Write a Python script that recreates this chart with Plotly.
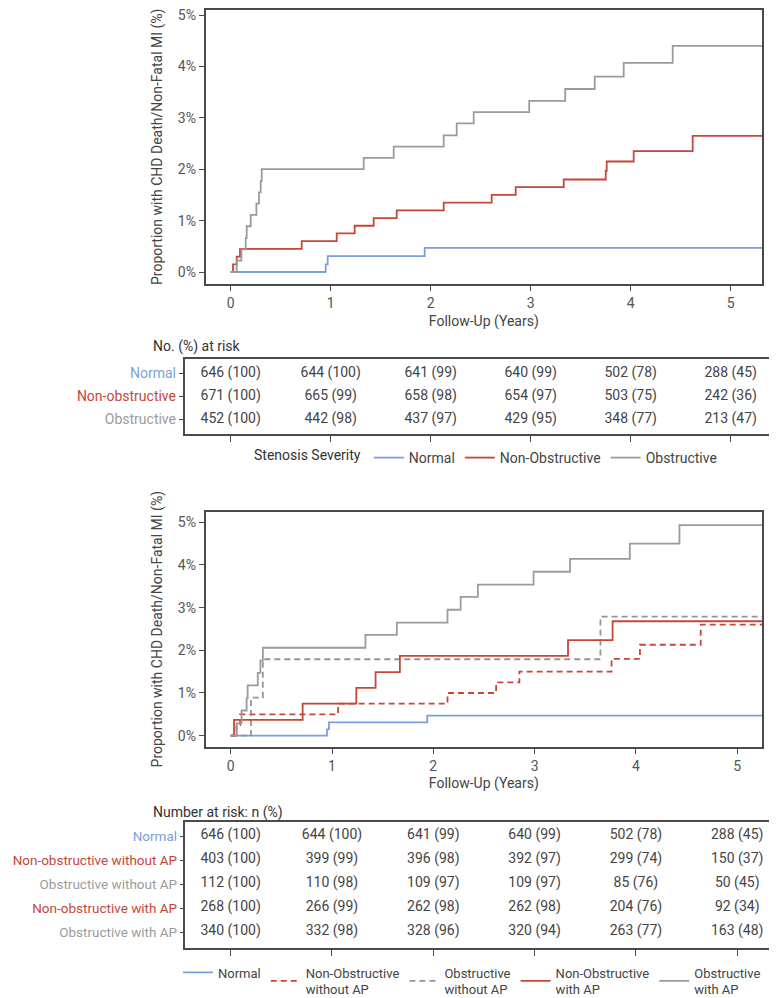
import plotly.graph_objects as go

# colours
BLUE = "#7b9fdb"
RED = "#c4473a"
GRAY = "#9b9b9b"
INK = "#444444"
FONT = "Roboto, Arial, sans-serif"

# --- panel A: stenosis severity (years, cumulative %) ---
a_normal_t = [0, 0.95, 0.97, 1.94, 5.4]
a_normal_y = [0, 0.15, 0.31, 0.47, 0.47]

a_nonobs_t = [0, 0.023, 0.06, 0.093, 0.71, 1.06, 1.24, 1.43, 1.66, 2.13, 2.61, 2.85,
              3.33, 3.75, 3.76, 4.03, 4.62, 5.4]
a_nonobs_y = [0, 0.15, 0.30, 0.45, 0.60, 0.75, 0.90, 1.05, 1.20, 1.35, 1.50, 1.65,
              1.80, 1.97, 2.15, 2.35, 2.65, 2.65]

a_obs_t = [0, 0.06, 0.107, 0.15, 0.16, 0.2, 0.257, 0.283, 0.3, 0.31, 1.33, 1.63, 2.13,
           2.26, 2.43, 2.985, 3.345, 3.64, 3.93, 4.42, 5.4]
a_obs_y = [0, 0.22, 0.44, 0.66, 0.89, 1.11, 1.33, 1.55, 1.77, 2.0, 2.22, 2.44, 2.66,
           2.89, 3.11, 3.33, 3.56, 3.80, 4.07, 4.40, 4.40]

a_rows = ["Normal", "Non-obstructive", "Obstructive"]
a_risk = [
    ["646 (100)", "644 (100)", "641 (99)", "640 (99)", "502 (78)", "288 (45)"],
    ["671 (100)", "665 (99)", "658 (98)", "654 (97)", "503 (75)", "242 (36)"],
    ["452 (100)", "442 (98)", "437 (97)", "429 (95)", "348 (77)", "213 (47)"],
]

# --- panel B: stenosis x anginal pain ---
b_normal_t = [0, 0.95, 0.97, 1.94, 5.4]
b_normal_y = [0, 0.15, 0.31, 0.47, 0.47]

b_nonobs_noap_t = [0, 0.057, 0.093, 1.06, 2.14, 2.62, 2.85, 3.76, 4.04, 4.64, 5.4]
b_nonobs_noap_y = [0, 0.25, 0.50, 0.75, 1.00, 1.25, 1.50, 1.80, 2.13, 2.60, 2.60]

b_obs_noap_t = [0, 0.2, 0.317, 3.65, 5.4]
b_obs_noap_y = [0, 0.89, 1.79, 2.79, 2.79]

b_nonobs_ap_t = [0, 0.033, 0.71, 1.24, 1.43, 1.67, 3.33, 3.77, 5.4]
b_nonobs_ap_y = [0, 0.37, 0.75, 1.12, 1.49, 1.87, 2.24, 2.68, 2.68]

b_obs_ap_t = [0, 0.06, 0.107, 0.157, 0.167, 0.267, 0.293, 0.317, 1.33, 1.64, 2.14,
              2.27, 2.44, 2.99, 3.35, 3.94, 4.43, 5.4]
b_obs_ap_y = [0, 0.29, 0.59, 0.88, 1.18, 1.47, 1.76, 2.06, 2.36, 2.65, 2.95,
              3.25, 3.54, 3.84, 4.14, 4.50, 4.93, 4.93]

b_rows = ["Normal", "Non-obstructive without AP", "Obstructive without AP",
          "Non-obstructive with AP", "Obstructive with AP"]
b_risk = [
    ["646 (100)", "644 (100)", "641 (99)", "640 (99)", "502 (78)", "288 (45)"],
    ["403 (100)", "399 (99)", "396 (98)", "392 (97)", "299 (74)", "150 (37)"],
    ["112 (100)", "110 (98)", "109 (97)", "109 (97)", "85 (76)", "50 (45)"],
    ["268 (100)", "266 (99)", "262 (98)", "262 (98)", "204 (76)", "92 (34)"],
    ["340 (100)", "332 (98)", "328 (96)", "320 (94)", "263 (77)", "163 (48)"],
]

years = [0, 1, 2, 3, 4, 5]
pct_ticks = [0, 1, 2, 3, 4, 5]

W, H = 777, 998
PAD = 8  # page body margin around the plot div
DASH = "6px,4px"


def fx(p):
    return (p - PAD) / W


def fy(p):
    return 1 - (p - PAD) / H


def px_x(a, b):
    return [fx(a), fx(b)]


def px_y(top, bottom):
    return [fy(bottom), min(1.0, fy(top))]


fig = go.Figure()


def km(x, y, name, color, dash, xa, ya, legend):
    fig.add_trace(go.Scatter(x=x, y=y, name=name, mode="lines", line_shape="hv",
                             line=dict(color=color, width=1.8, dash=dash),
                             xaxis=xa, yaxis=ya, legend=legend))


def risk_table(risk, xa, ya):
    for i, row in enumerate(risk):
        fig.add_trace(go.Scatter(x=years, y=[i] * len(row), text=row, mode="text",
                                 textfont=dict(color=INK, size=14, family=FONT),
                                 showlegend=False, xaxis=xa, yaxis=ya, hoverinfo="skip"))


km(a_normal_t, a_normal_y, "Normal", BLUE, "solid", "x", "y", "legend")
km(a_nonobs_t, a_nonobs_y, "Non-Obstructive", RED, "solid", "x", "y", "legend")
km(a_obs_t, a_obs_y, "Obstructive", GRAY, "solid", "x", "y", "legend")

a_colors = [BLUE, RED, GRAY]
risk_table(a_risk, "x2", "y2")

km(b_normal_t, b_normal_y, "Normal", BLUE, "solid", "x3", "y3", "legend2")
km(b_nonobs_noap_t, b_nonobs_noap_y, "Non-Obstructive<br>without AP", RED, DASH, "x3", "y3", "legend2")
km(b_obs_noap_t, b_obs_noap_y, "Obstructive<br>without AP", "#959595", DASH, "x3", "y3", "legend2")
km(b_nonobs_ap_t, b_nonobs_ap_y, "Non-Obstructive<br>with AP", RED, "solid", "x3", "y3", "legend2")
km(b_obs_ap_t, b_obs_ap_y, "Obstructive<br>with AP", GRAY, "solid", "x3", "y3", "legend2")

b_colors = [BLUE, RED, GRAY, RED, GRAY]
risk_table(b_risk, "x4", "y4")

box = dict(showline=True, mirror=True, linecolor="#4a4a4a", linewidth=2,
           showgrid=False, zeroline=False, ticks="outside", tickcolor="#4a4a4a",
           automargin=False, ticklabeloverflow="allow",
           tickfont=dict(size=14, color="#555555", family=FONT))

ytitle = "Proportion with CHD Death/Non-Fatal MI (%)"

fig.update_layout(
    width=W, height=H, margin=dict(l=0, r=0, t=0, b=0, autoexpand=False),
    paper_bgcolor="white", plot_bgcolor="white",
    font=dict(family=FONT, color=INK, size=14),
    xaxis=dict(box, domain=px_x(205.7, 762), range=[-0.25, 5.313], tickvals=years,
               ticklen=5, anchor="y",
               title=dict(text="Follow-Up (Years)", standoff=6,
                          font=dict(size=14, color=INK))),
    # the page starts 8px lower, so the top frame sits just under the edge
    yaxis=dict(box, domain=px_y(9.5, 284), range=[-0.233, 5.107], tickvals=pct_ticks,
               ticktext=[f"{v}%" for v in pct_ticks], ticklen=5, anchor="x",
               title=dict(text=ytitle, standoff=12, font=dict(size=14, color=INK))),
    xaxis2=dict(box, domain=px_x(184.8, 775.5), range=[-0.459, 5.448], tickvals=years,
                ticklen=6, showticklabels=False, anchor="y2"),
    yaxis2=dict(box, domain=px_y(359, 434), range=[2.64, -0.62], tickvals=[0, 1, 2],
                ticktext=[f'<span style="color:{c}">{r}</span>' for r, c in zip(a_rows, a_colors)],
                ticklen=4, anchor="x2"),
    xaxis3=dict(box, domain=px_x(205.7, 762), range=[-0.247, 5.245], tickvals=years,
                ticklen=5, anchor="y3",
                title=dict(text="Follow-Up (Years)", standoff=6,
                           font=dict(size=14, color=INK))),
    yaxis3=dict(box, domain=px_y(511.7, 746.7), range=[-0.258, 5.246], tickvals=pct_ticks,
                ticktext=[f"{v}%" for v in pct_ticks], ticklen=5, anchor="x3",
                title=dict(text=ytitle, standoff=12, font=dict(size=14, color=INK))),
    xaxis4=dict(box, domain=px_x(184.8, 775.5), range=[-0.453, 5.378], tickvals=years,
                ticklen=6, showticklabels=False, anchor="y4"),
    yaxis4=dict(box, domain=px_y(821.7, 947.7), range=[4.654, -0.596], tickvals=[0, 1, 2, 3, 4],
                ticktext=[f'<span style="color:{c}">{r}</span>' for r, c in zip(b_rows, b_colors)],
                ticklen=3, tickfont=dict(size=13.5, color="#555555", family=FONT),
                anchor="x4"),
    legend=dict(orientation="h", xref="container", yref="container",
                x=fx(252), xanchor="left", y=fy(458), yanchor="middle",
                title=dict(text="Stenosis Severity", side="left", font=dict(size=14, color="#333")),
                font=dict(size=14, color=INK), itemwidth=30, bgcolor="rgba(0,0,0,0)",
                itemclick=False),
    legend2=dict(orientation="h", xref="container", yref="container",
                 x=fx(178), xanchor="left", y=fy(981), yanchor="middle",
                 font=dict(size=13, color=INK), itemwidth=30, bgcolor="rgba(0,0,0,0)",
                 valign="middle", itemclick=False),
    showlegend=True,
)

fig.add_annotation(text="No. (%) at risk", x=fx(151), y=fy(346), xref="paper", yref="paper",
                   xanchor="left", yanchor="middle", showarrow=False,
                   font=dict(size=14, color="#333"))
fig.add_annotation(text="Number at risk: n (%)", x=fx(151), y=fy(812), xref="paper", yref="paper",
                   xanchor="left", yanchor="middle", showarrow=False,
                   font=dict(size=14, color="#333"))

fig.write_html("out.html")
